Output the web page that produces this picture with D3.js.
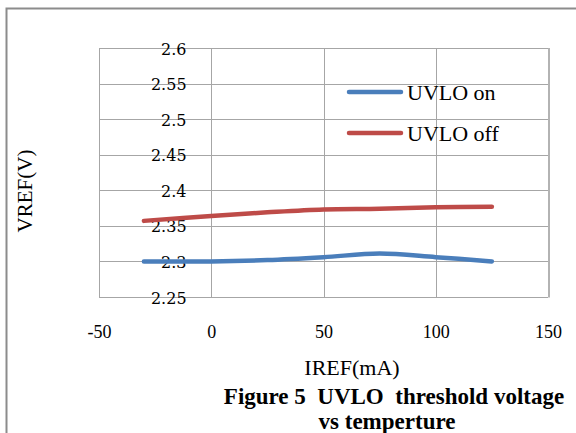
<!DOCTYPE html>
<html>
<head>
<meta charset="utf-8">
<script src="https://cdn.jsdelivr.net/npm/d3@7"></script>
<style>
  body { margin: 0; background: #fff; }
  text { font-family: "Liberation Serif", "DejaVu Serif", serif; fill: #000; }
  .grid line { stroke: #a6a6a6; stroke-width: 1; }
</style>
</head>
<body>
<script>
// data
var temps = [-30, 0, 25, 50, 75, 100, 125];
var uvloOn = [2.300, 2.300, 2.302, 2.306, 2.311, 2.306, 2.300];
var uvloOff = [2.357, 2.364, 2.369, 2.373, 2.374, 2.376, 2.377];
var seriesNames = ["UVLO on", "UVLO off"];
var xTicks = [-50, 0, 50, 100, 150];
var yTicks = [2.25, 2.3, 2.35, 2.4, 2.45, 2.5, 2.55, 2.6];

var W = 576, H = 433;
var margin = { top: 48, right: 28, bottom: 136, left: 99 };
var width = W - margin.left - margin.right,
    height = H - margin.top - margin.bottom;

var svg = d3.select("body").append("svg")
    .attr("width", W)
    .attr("height", H);

// outer chart frame (only left and top edges visible)
svg.append("path")
    .attr("d", "M6.5," + H + "V8.5H" + W)
    .attr("fill", "none")
    .attr("stroke", "#8c8c8c")
    .attr("stroke-width", 2);

var g = svg.append("g")
    .attr("transform", "translate(" + margin.left + "," + margin.top + ")");

var xScale = d3.scaleLinear().domain([-50, 150]).range([0, width]);
var yScale = d3.scaleLinear().domain([2.25, 2.6]).range([height, 0]);

// gridlines
g.append("g").attr("class", "grid")
    .selectAll("line").data(yTicks).enter().append("line")
    .attr("x1", 0).attr("x2", width)
    .attr("y1", d => Math.round(yScale(d)) + 0.5)
    .attr("y2", d => Math.round(yScale(d)) + 0.5);
g.append("g").attr("class", "grid")
    .selectAll("line").data(xTicks).enter().append("line")
    .attr("y1", 0).attr("y2", height)
    .attr("x1", d => Math.round(xScale(d)) + 0.5)
    .attr("x2", d => Math.round(xScale(d)) + 0.5);

// right edge of plot area a bit heavier
g.append("line")
    .attr("x1", width + 1).attr("x2", width + 1)
    .attr("y1", 0).attr("y2", height + 0.5)
    .attr("stroke", "#b3b3b3").attr("stroke-width", 2);

// y tick labels sit inside the plot, right aligned near x = -10
var yAxis = g.append("g")
    .attr("transform", "translate(" + (xScale(-11)) + ",1)")
    .call(d3.axisLeft(yScale).tickValues(yTicks).tickSize(0).tickPadding(0)
        .tickFormat(d => String(d)));
yAxis.select(".domain").remove();
yAxis.selectAll("text").style("font-size", "16px").style("font-family", "'DejaVu Serif', serif");

// x tick labels
var xAxis = g.append("g")
    .attr("transform", "translate(0," + height + ")")
    .call(d3.axisBottom(xScale).tickValues(xTicks).tickSize(0).tickPadding(28)
        .tickFormat(d => String(d)));
xAxis.select(".domain").remove();
xAxis.selectAll("text").style("font-size", "18px").style("font-family", null);

// lines
var line = d3.line()
    .x((d, i) => xScale(temps[i]))
    .y(d => yScale(d))
    .curve(d3.curveCatmullRom);

var colors = ["#4a7ebb", "#be4b48"];
[uvloOn, uvloOff].forEach(function (s, k) {
    g.append("path")
        .datum(s)
        .attr("fill", "none")
        .attr("stroke", colors[k])
        .attr("stroke-width", 4.5)
        .attr("stroke-linecap", "round")
        .attr("d", line);
});

// legend
var legend = svg.append("g").attr("transform", "translate(349,92)");
seriesNames.forEach(function (name, k) {
    var row = legend.append("g").attr("transform", "translate(0," + (k * 41) + ")");
    row.append("line")
        .attr("x1", 0).attr("x2", 52)
        .attr("stroke", colors[k]).attr("stroke-width", 4.5)
        .attr("stroke-linecap", "round");
    row.append("text")
        .attr("x", 58).attr("dy", "0.35em")
        .style("font-size", "22px")
        .text(name);
});

// axis titles
svg.append("text")
    .attr("transform", "translate(32,191) rotate(-90)")
    .attr("text-anchor", "middle")
    .style("font-size", "21px")
    .text("VREF(V)");

svg.append("text")
    .attr("x", 352).attr("y", 375)
    .attr("text-anchor", "middle")
    .style("font-size", "22px")
    .text("IREF(mA)");

// caption
svg.append("text")
    .attr("x", 394).attr("y", 404)
    .attr("text-anchor", "middle")
    .style("font-size", "23px").style("font-weight", "bold")
    .attr("xml:space", "preserve")
    .text("Figure 5  UVLO  threshold voltage");
svg.append("text")
    .attr("x", 387).attr("y", 429)
    .attr("text-anchor", "middle")
    .style("font-size", "23px").style("font-weight", "bold")
    .text("vs temperture");
</script>
</body>
</html>
